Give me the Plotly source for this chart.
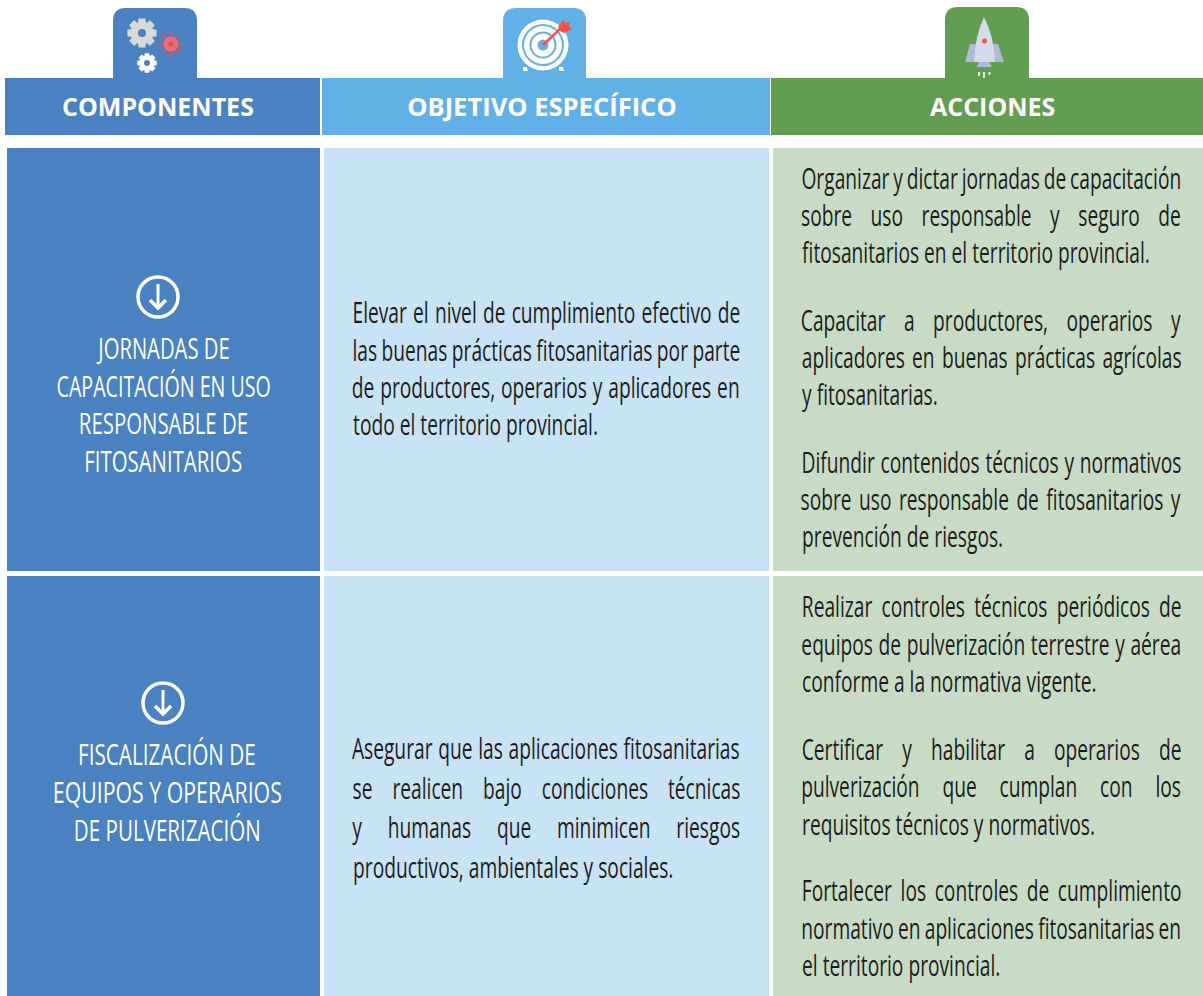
import math
import plotly.graph_objects as go

W, H = 1203, 996
FONT = "Open Sans"
HEAD_FONT = "Open Sans"

BLUE = "#4a81c1"
SKY = "#62b1e6"
GREEN = "#629d52"
SKY_CELL = "#c9e3f6"
GREEN_CELL = "#c8dcc5"
INK = "#1d1d1b"

headers = ["COMPONENTES", "OBJETIVO ESPECÍFICO", "ACCIONES"]
header_cx = [158, 542, 992]
header_scale = [1.0, 1.022, 1.0]
header_boxes = [(5, 320, BLUE), (322, 770, SKY), (771, 1203, GREEN)]
tabs = [(113, 197, 8, BLUE), (503, 586, 8, SKY), (945, 1029, 7, GREEN)]
row_boxes = [(148, 571), (576, 996)]
col_boxes = [(7, 320, BLUE), (324, 769, SKY_CELL), (773, 1203, GREEN_CELL)]

comp_lines = [
    ["JORNADAS DE", "CAPACITACIÓN EN USO", "RESPONSABLE DE", "FITOSANITARIOS"],
    ["FISCALIZACIÓN DE", "EQUIPOS Y OPERARIOS", "DE PULVERIZACIÓN"],
]
comp_scale = [[0.675, 0.655, 0.68, 0.68], [0.69, 0.71, 0.686]]
comp_y = [[347, 385, 422, 460], [753, 791, 829]]
comp_cx = [163, 167]
arrow_c = [(158, 297), (163, 703)]

obj_lines = [
    [("Elevar el nivel de cumplimiento efectivo de", 1),
     ("las buenas prácticas fitosanitarias por parte", 1),
     ("de productores, operarios y aplicadores en", 1),
     ("todo el territorio provincial.", 0)],
    [("Asegurar que las aplicaciones fitosanitarias", 1),
     ("se realicen bajo condiciones técnicas", 1),
     ("y humanas que minimicen riesgos", 1),
     ("productivos, ambientales y sociales.", 0)],
]
obj_y = [[311, 349, 386, 423], [747, 787, 826, 866]]

act_lines = [
    [("Organizar y dictar jornadas de capacitación", 1),
     ("sobre uso responsable y seguro de", 1),
     ("fitosanitarios en el territorio provincial.", 0),
     ("Capacitar a productores, operarios y", 1),
     ("aplicadores en buenas prácticas agrícolas", 1),
     ("y fitosanitarias.", 0),
     ("Difundir contenidos técnicos y normativos", 1),
     ("sobre uso responsable de fitosanitarios y", 1),
     ("prevención de riesgos.", 0)],
    [("Realizar controles técnicos periódicos de", 1),
     ("equipos de pulverización terrestre y aérea", 1),
     ("conforme a la normativa vigente.", 0),
     ("Certificar y habilitar a operarios de", 1),
     ("pulverización que cumplan con los", 1),
     ("requisitos técnicos y normativos.", 0),
     ("Fortalecer los controles de cumplimiento", 1),
     ("normativo en aplicaciones fitosanitarias en", 1),
     ("el territorio provincial.", 0)],
]
act_y = [[177, 214, 251, 319, 356, 393, 461, 498, 535],
         [605, 643, 680, 748, 785, 823, 889, 927, 964]]

OBJ_X = (352, 740)
ACT_X = (801, 1181)
BODY_SIZE = 30
COMP_SIZE = 30
BODY_SCALE = 0.64

shapes = []
annots = []


def rect(x0, x1, y0, y1, color):
    shapes.append(dict(type="rect", x0=x0, x1=x1, y0=y0, y1=y1, fillcolor=color,
                       line=dict(width=0), layer="below"))


def path(d, fill=None, line=None, width=0, layer="above"):
    shapes.append(dict(type="path", path=d, fillcolor=fill or "rgba(0,0,0,0)",
                       line=dict(color=line or "rgba(0,0,0,0)", width=width), layer=layer))


def circle(cx, cy, r, fill=None, line=None, width=0):
    shapes.append(dict(type="circle", x0=cx - r, x1=cx + r, y0=cy - r, y1=cy + r,
                       fillcolor=fill or "rgba(0,0,0,0)",
                       line=dict(color=line or "rgba(0,0,0,0)", width=width)))


def poly(points, fill):
    d = "M" + " L".join(f"{x:.2f},{y:.2f}" for x, y in points) + " Z"
    path(d, fill=fill)


def gear(cx, cy, ro, ri, teeth, hole, color, hole_color):
    pts = []
    step = 2 * math.pi / teeth
    for k in range(teeth):
        a = k * step
        for da, r in ((-0.30, ri), (-0.18, ro), (0.18, ro), (0.30, ri)):
            t = a + da * step * 1.6
            pts.append((cx + r * math.cos(t), cy + r * math.sin(t)))
    poly(pts, color)
    circle(cx, cy, hole, fill=hole_color)


def text_line(txt, x, y, size, color, family, xanchor="center", name=None, weight=None):
    f = dict(size=size, color=color, family=family)
    if weight:
        f["weight"] = weight
    a = dict(text=txt, x=x, y=y, xref="x", yref="y", showarrow=False, xanchor=xanchor,
             yanchor="middle", font=f, borderpad=0, align="center")
    if name:
        a["name"] = name
    annots.append(a)


def body_line(txt, just, y, xr):
    if just:
        text_line(txt, (xr[0] + xr[1]) / 2, y, BODY_SIZE, INK, FONT, "center",
                  name=f"fit|{BODY_SCALE}|{xr[1] - xr[0]}|c")
    else:
        text_line(txt, xr[0], y, BODY_SIZE, INK, FONT, "left",
                  name=f"fit|{BODY_SCALE}|0|l")


# header bands and tabs
for (x0, x1, c), label, cx, s in zip(header_boxes, headers, header_cx, header_scale):
    rect(x0, x1, 78, 135, c)
    text_line(label, cx, 106, 25, "#ffffff", HEAD_FONT, weight=700, name=f"fit|{s}|0|c")
for x0, x1, top, c in tabs:
    r = 13
    path(f"M{x0},79 L{x0},{top + r} Q{x0},{top} {x0 + r},{top} L{x1 - r},{top} "
         f"Q{x1},{top} {x1},{top + r} L{x1},79 Z", fill=c)

# body cells
for y0, y1 in row_boxes:
    for x0, x1, c in col_boxes:
        rect(x0, x1, y0, y1, c)

# text
for lines, ys, cx, scales in zip(comp_lines, comp_y, comp_cx, comp_scale):
    for t, y, s in zip(lines, ys, scales):
        text_line(t, cx, y, COMP_SIZE, "#ffffff", FONT, name=f"fit|{s}|0|c")
for lines, ys in zip(obj_lines, obj_y):
    for (t, j), y in zip(lines, ys):
        body_line(t, j, y, OBJ_X)
for lines, ys in zip(act_lines, act_y):
    for (t, j), y in zip(lines, ys):
        body_line(t, j, y, ACT_X)

# down-arrow icons
for cx, cy in arrow_c:
    circle(cx, cy, 20, line="#ffffff", width=3.5)
    path(f"M{cx},{cy - 13} L{cx},{cy + 11}", line="#ffffff", width=3)
    path(f"M{cx - 8},{cy + 3} L{cx},{cy + 11} L{cx + 8},{cy + 3}", line="#ffffff", width=3.5)

# gears icon
gear(142, 33, 15, 11, 8, 4, "#d9d9d9", BLUE)
for k in range(8):
    a = k * math.pi / 4
    path(f"M{171:.1f},{44:.1f} L{171 + 13 * math.cos(a):.2f},{44 + 13 * math.sin(a):.2f}",
         line="#d9505a", width=2)
circle(171, 44, 7.5, fill="#f26b75")
circle(171, 44, 2.5, fill="#d9505a")
gear(147, 63, 10, 7.5, 8, 3, "#ffffff", BLUE)

# target icon
for r, c in ((25.5, "#ffffff"), (21, SKY), (19, "#ffffff"), (13.5, SKY), (11.5, "#ffffff"), (5.5, SKY)):
    circle(543, 45, r, fill=c)
poly([(523, 67), (527, 67), (528, 71), (523, 71)], "#ffffff")
poly([(559, 67), (563, 67), (564, 71), (559, 71)], "#ffffff")
path("M543,45 L560,29", line="#f5504a", width=2.5)
poly([(558, 27), (563, 20), (566, 23), (570, 22), (569, 26), (572, 29), (565, 33), (561, 32)], "#f5504a")

# rocket icon
poly([(970, 44), (976, 44), (975, 62), (965, 62)], "#b0bad3")
poly([(998, 44), (992, 44), (994, 62), (1004, 62)], "#b0bad3")
poly([(979, 62), (989, 62), (992, 67), (977, 67)], "#b0bad3")
path("M984,17 Q975,36 974,62 L995,62 Q994,36 984,17 Z", fill="#d4dbea")
circle(984.5, 41, 2.5, fill="#f5504a")
path("M979,72 L979,76", line="#e6efe3", width=2)
path("M984,72 L984,78", line="#e6efe3", width=2)
path("M989.5,72 L989.5,75", line="#e6efe3", width=2)

fig = go.Figure()
fig.update_layout(
    width=W, height=H, margin=dict(l=0, r=0, t=0, b=0),
    paper_bgcolor="#ffffff", plot_bgcolor="#ffffff",
    xaxis=dict(range=[0, W], visible=False, fixedrange=True),
    yaxis=dict(range=[H, 0], visible=False, fixedrange=True),
    shapes=shapes, annotations=annots, showlegend=False,
)

# The reference face is a condensed sans: narrow the text, and justify marked lines.
POST = """
document.body.style.margin = '0';
var gd = document.getElementById('{plot_id}');
gd.querySelectorAll('.annotation').forEach(function (g) {
  var a = gd.layout.annotations[+g.getAttribute('data-index')];
  if (!a || !a.name || a.name.indexOf('fit|') !== 0) return;
  var p = a.name.split('|'), s = +p[1], target = +p[2], mode = p[3];
  var t = g.querySelector('text');
  if (target > 0) {
    var gaps = a.text.split(' ').length - 1;
    t.style.wordSpacing = ((target / s - t.getComputedTextLength()) / gaps) + 'px';
  }
  var b = t.getBBox();
  var o = mode === 'l' ? b.x : b.x + b.width / 2;
  t.setAttribute('transform', 'translate(' + o + ',0) scale(' + s + ',1) translate(' + (-o) + ',0)');
});
"""
fig.write_html("out.html", post_script=POST, config={"displayModeBar": False})
